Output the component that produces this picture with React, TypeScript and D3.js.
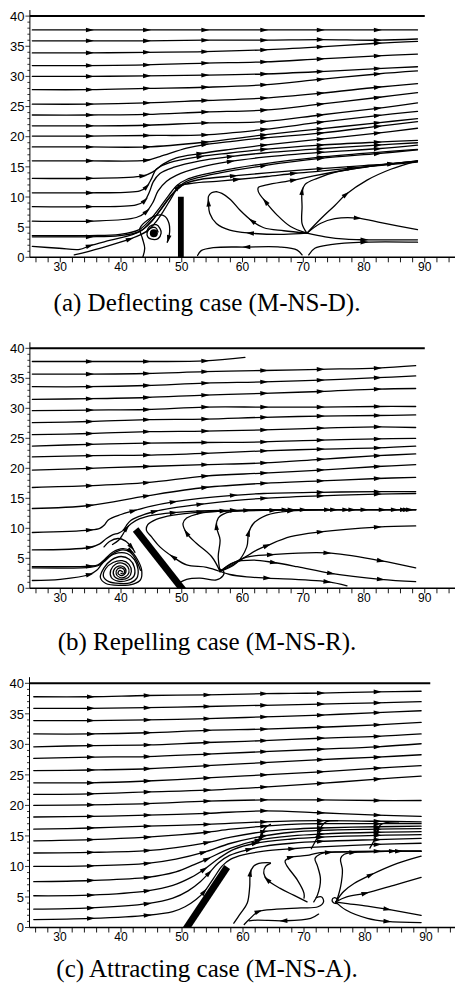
import React from "react";
import * as d3 from "d3";

type P = number[];

const CAPTIONS = [
  "(a) Deflecting case (M-NS-D).",
  "(b) Repelling case (M-NS-R).",
  "(c) Attracting case (M-NS-A).",
];
const X_LABELS = [30, 40, 50, 60, 70, 80, 90];
const Y_LABELS = [0, 5, 10, 15, 20, 25, 30, 35, 40];

// ---------- Panel A (deflecting) ----------
const STATIONS_A = [25.4, 34.8, 44.2, 53.8, 63.5, 72.8, 82.2, 88.8];
const UNIFORM_A = [
  [37.7, 37.7, 37.7, 37.7, 37.7, 37.7, 37.7, 37.7],
  [35.9, 35.9, 35.9, 36.0, 36.0, 36.1, 36.0, 36.2],
  [33.9, 33.9, 34.0, 34.1, 34.4, 34.9, 35.5, 35.8],
  [31.8, 31.8, 31.9, 32.2, 32.4, 32.9, 33.4, 33.7],
  [30.0, 30.0, 30.1, 30.2, 30.4, 30.8, 31.3, 31.6],
  [27.8, 27.8, 28.0, 28.2, 28.6, 29.5, 30.4, 30.9],
  [25.4, 25.4, 25.6, 26.0, 26.4, 27.2, 28.2, 28.8],
  [23.6, 23.6, 23.7, 24.1, 24.4, 25.4, 26.5, 27.3],
  [21.8, 21.8, 21.9, 22.3, 22.5, 23.6, 24.7, 25.6],
  [20.1, 20.1, 20.2, 20.3, 21.2, 22.4, 23.5, 24.2],
  [18.3, 18.3, 18.3, 19.1, 20.3, 21.3, 22.3, 23.0],
];
const FLOW_A: P[][] = [
  [[25.4, 16.0], [34.8, 16.0, 1], [44.2, 16.1, 1], [46.4, 16.7], [50.8, 18.1], [53.8, 18.7, 1], [58.0, 19.2], [63.5, 19.8, 1], [72.8, 20.6, 1], [82.2, 21.7, 1], [88.8, 22.5]],
  [[25.4, 13.1], [34.8, 13.1, 1], [43.6, 13.5, 1], [45.3, 14.2], [47.0, 15.5], [49.1, 16.5], [53.0, 17.2, 1], [58.0, 17.9], [63.5, 18.6, 1], [72.8, 19.6, 1], [82.2, 20.6, 1], [88.8, 21.4]],
  [[25.4, 10.7], [34.8, 10.7, 1], [43.1, 11.0], [44.2, 11.7, 1], [45.0, 13.0], [45.8, 14.6], [48.0, 15.7], [53.0, 16.7, 1], [58.0, 17.3], [63.5, 17.9, 1], [72.8, 18.6, 1], [82.2, 19.1, 1], [88.8, 19.4]],
  [[25.4, 8.4], [34.8, 8.4, 1], [42.5, 8.7], [43.9, 9.4, 1], [44.7, 10.9], [45.3, 12.5], [46.4, 13.9], [48.6, 14.9], [53.0, 16.0], [58.0, 16.7, 1], [63.5, 17.3], [72.8, 18.0, 1], [82.2, 18.6, 1], [88.8, 19.0]],
  [[25.4, 6.0], [34.8, 6.0, 1], [42.5, 6.6], [44.2, 7.6, 1], [45.3, 9.2], [46.1, 11.0], [47.5, 12.6], [49.1, 13.6], [53.0, 14.9], [58.0, 15.9, 1], [63.5, 16.6], [72.8, 17.4, 1], [82.2, 18.0, 1], [88.8, 18.6]],
  [[25.4, 3.4], [34.8, 3.4, 1], [39.8, 3.6], [43.1, 4.3], [44.7, 5.7], [46.4, 7.7], [48.0, 9.9], [49.4, 11.6, 1], [50.8, 12.6], [56.3, 14.0], [63.5, 15.2, 1], [72.8, 16.4, 1], [82.2, 17.2, 1], [88.8, 17.8]],
  [[25.4, 3.6], [34.8, 3.6], [39.8, 3.8], [43.0, 4.6], [44.6, 6.0], [46.2, 8.0], [47.8, 10.2], [49.2, 11.9], [50.8, 12.9], [56.3, 14.3], [63.5, 15.5], [72.8, 16.6, 1], [82.2, 17.4], [88.8, 17.9]],
  [[25.4, 1.8], [29.8, 1.5], [33.2, 1.3], [34.8, 1.9, 1], [38.1, 2.8], [42.0, 3.8], [43.6, 4.6], [45.1, 6.0], [46.7, 8.2], [48.2, 10.2], [49.4, 11.4], [50.5, 12.2], [53.0, 12.9], [58.5, 13.5, 1], [64.0, 14.0], [72.8, 14.7, 1], [80.0, 15.2], [84.4, 15.5, 1], [88.8, 16.0]],
  [[32.3, 0.4], [36.5, 1.5], [41.4, 3.0, 1], [44.2, 4.3], [45.6, 5.7], [47.0, 7.7], [48.2, 9.7], [49.0, 11.0], [49.9, 11.9, 1], [51.9, 12.3], [55.7, 12.6], [59.0, 12.9, 1], [64.0, 13.4], [68.4, 13.9, 1], [72.8, 14.3], [77.8, 14.8, 1], [83.3, 15.3], [88.8, 15.8]],
];
const VORTEX_A: P[][] = [
  [[43.6, 0.1], [43.9, 1.5], [43.5, 3.2], [43.1, 4.8], [44.4, 6.2], [46.1, 7.0], [47.2, 6.8], [47.9, 5.6], [48.0, 4.2], [47.8, 3.1, 1], [47.6, 2.5]],
  [[44.2, 4.2], [44.7, 5.1], [45.8, 5.4], [46.4, 4.8], [46.6, 4.0], [46.1, 3.1], [45.0, 3.0], [44.4, 3.4], [44.3, 4.1], [44.8, 4.8], [45.7, 4.9], [46.1, 4.2]],
];
const BLOB_A = [45.4, 4.0];
const RECIRC_A: P[][] = [
  [[70.6, 4.0], [66.8, 3.8], [61.3, 4.0, 1], [57.9, 4.5], [55.7, 5.6], [54.6, 7.3], [54.4, 9.0, 1], [54.4, 10.1], [54.9, 10.7], [55.7, 10.9]],
  [[70.6, 4.0], [66.8, 4.4], [63.5, 4.9], [61.6, 6.0, 1], [59.6, 7.8], [58.0, 9.6], [56.6, 10.6], [55.7, 10.9]],
  [[70.6, 4.0], [69.8, 5.6], [69.8, 8.4], [69.8, 10.9, 1], [70.3, 12.1], [72.3, 13.1], [75.6, 14.2], [80.5, 15.0], [84.4, 15.5, 1], [88.8, 16.0]],
  [[70.6, 4.0], [67.9, 5.1], [65.7, 7.0], [63.8, 9.2, 1], [62.6, 10.9], [62.6, 11.6], [64.0, 12.0], [68.4, 12.8, 1], [71.7, 13.5], [77.8, 14.6], [83.3, 15.4], [88.8, 15.9]],
  [[70.6, 4.0], [72.8, 6.3], [75.2, 8.6], [77.0, 10.4, 1], [80.5, 12.8], [84.4, 14.6], [88.8, 16.0]],
  [[70.6, 4.0], [72.8, 5.6], [75.2, 6.4], [78.9, 6.5, 1], [83.0, 5.7], [88.8, 4.6]],
  [[70.6, 4.0], [73.6, 3.4], [77.0, 3.0], [80.0, 2.9, 1], [88.8, 2.9]],
  [[70.9, 0.4], [71.9, 1.5], [74.5, 2.1], [80.0, 2.5, 1], [88.8, 2.5]],
  [[69.8, 0.4], [69.0, 1.2], [66.2, 1.7], [60.7, 1.7, 1], [55.2, 1.6], [53.2, 1.1], [52.6, 0.3]],
];
const WALL_A: P[] = [[49.85, 0], [49.85, 10.05]];

// ---------- Panel B (repelling) ----------
const STATIONS_B = [25.4, 34.8, 44.2, 53.8, 63.5, 72.8, 82.2, 88.5];
const UNIFORM_B = [
  [35.7, 35.7, 35.8, 36.1, 36.3, 36.5, 36.7, 37.1],
  [33.6, 33.6, 33.8, 34.2, 34.4, 34.7, 35.1, 35.4],
  [31.5, 31.6, 31.8, 32.2, 32.5, 32.8, 33.2, 33.3],
  [29.6, 29.7, 29.8, 30.2, 30.2, 30.2, 30.3, 30.3],
  [27.6, 27.8, 28.1, 28.2, 28.5, 28.7, 28.8, 28.9],
  [25.6, 25.8, 26.1, 26.2, 26.4, 26.7, 26.9, 26.8],
  [23.7, 24.0, 24.2, 24.3, 24.4, 24.7, 24.9, 25.0],
  [21.9, 22.1, 22.2, 22.5, 22.9, 23.2, 23.4, 23.7],
  [19.7, 20.0, 20.3, 20.6, 20.9, 21.5, 22.1, 22.4],
  [16.8, 17.1, 17.6, 18.7, 19.2, 19.7, 20.3, 20.6],
  [13.3, 13.8, 15.4, 16.8, 17.5, 17.9, 18.3, 18.5],
];
const FLOW_B: P[][] = [
  [[25.4, 37.8], [34.8, 37.8, 1], [44.2, 37.8, 1], [53.8, 37.9, 1], [60.4, 38.5]],
  [[25.4, 9.3], [34.8, 9.7, 1], [36.5, 10.0], [37.3, 10.6], [37.9, 11.4], [40.0, 12.3], [42.0, 12.9, 1], [45.0, 13.7], [48.6, 14.4, 1], [53.0, 15.0], [58.5, 15.5, 1], [63.5, 15.8], [72.8, 16.0, 1], [82.2, 16.1, 1], [88.5, 16.1]],
  [[25.4, 6.4], [34.8, 6.8, 1], [36.5, 7.4], [37.6, 8.3], [38.6, 8.9], [39.6, 9.2], [40.4, 9.7], [40.9, 10.5], [41.6, 11.3], [43.0, 12.0], [45.5, 12.8, 1], [48.6, 13.4], [53.0, 14.0, 1], [58.5, 14.6], [63.5, 15.0, 1], [72.8, 15.4, 1], [82.2, 15.7, 1], [88.5, 15.8]],
  [[38.6, 7.3], [39.6, 8.0], [40.3, 9.0], [40.9, 10.0, 1], [41.7, 10.8], [43.1, 11.6], [45.3, 12.2], [48.6, 12.6, 1], [53.0, 12.9], [58.5, 13.0, 1], [63.5, 13.1], [68.0, 13.1, 1], [72.8, 13.1], [78.0, 13.1, 1], [84.0, 13.1], [87.0, 13.1, 1], [88.5, 13.1]],
  [[37.2, 6.9], [38.1, 7.8], [39.5, 8.3], [40.7, 7.9], [41.7, 6.9, 1], [42.3, 6.0]],
];
const VORTEX_B: P[][] = [
  [[25.4, 3.6], [34.8, 3.7, 1], [36.2, 3.9], [37.3, 4.8], [38.6, 6.0], [40.3, 6.6], [41.6, 6.2, 1], [42.7, 4.8], [43.4, 3.0], [43.2, 1.4], [42.0, 0.7], [39.8, 0.5], [37.5, 0.8], [36.6, 1.8], [37.2, 3.4], [38.4, 4.7], [40.0, 5.3], [41.4, 4.8], [42.2, 3.5], [42.1, 2.0], [41.0, 1.3], [39.5, 1.2], [38.4, 1.8], [38.3, 3.0], [39.1, 4.0], [40.2, 4.2], [41.1, 3.6], [41.3, 2.6], [40.7, 1.9], [39.8, 1.8], [39.2, 2.4], [39.4, 3.2], [40.1, 3.4], [40.6, 2.9], [40.4, 2.4], [40.0, 2.5]],
  [[25.4, 3.4], [34.8, 3.5], [36.3, 3.8], [37.4, 4.6], [38.7, 5.8], [40.3, 6.4], [41.5, 6.0], [42.5, 4.7], [43.2, 3.0]],
  [[25.4, 1.3], [30.0, 1.5], [34.8, 2.3, 1], [36.0, 3.0], [36.8, 4.0], [37.9, 5.2], [39.5, 5.9], [41.0, 5.8], [42.2, 4.8], [42.8, 3.2], [42.6, 1.7], [41.5, 0.9], [39.8, 0.8], [38.0, 1.1], [37.1, 2.0], [37.5, 3.3], [38.7, 4.3], [40.2, 4.6], [41.3, 4.0], [41.7, 2.8], [41.2, 1.8], [40.0, 1.5], [38.9, 2.0], [38.8, 3.0], [39.6, 3.7], [40.5, 3.5], [40.8, 2.7], [40.2, 2.1], [39.5, 2.5], [39.8, 3.0], [40.3, 2.7]],
];
const RECIRC_B: P[][] = [
  [[56.3, 2.8], [54.1, 3.5], [50.8, 3.9], [48.6, 5.2, 1], [46.4, 6.9], [45.0, 8.6], [44.2, 9.6], [44.4, 10.6], [45.8, 11.5], [48.6, 12.2], [53.0, 12.7, 1], [58.5, 12.9], [65.0, 13.0, 1], [75.0, 13.1, 1], [85.0, 13.1, 1], [88.5, 13.1]],
  [[56.3, 2.8], [54.9, 5.3], [52.4, 7.5], [50.8, 9.2, 1], [50.2, 10.8], [50.8, 11.7], [53.0, 12.5], [56.8, 12.9, 1], [62.0, 13.0], [67.0, 13.1, 1], [77.0, 13.1, 1], [86.5, 13.1, 1], [88.5, 13.1]],
  [[56.3, 2.8], [56.0, 5.3], [56.3, 8.1], [55.7, 10.3, 1], [56.0, 11.7], [57.4, 12.6], [60.7, 13.0, 1], [66.0, 13.1], [70.0, 13.1, 1], [80.0, 13.1, 1], [87.5, 13.1, 1], [88.5, 13.1]],
  [[56.3, 2.8], [59.0, 4.2], [60.7, 6.9], [61.0, 9.2, 1], [61.8, 10.8], [64.0, 12.2], [67.9, 12.9, 1], [74.0, 13.1, 1], [83.0, 13.1, 1], [88.5, 13.1]],
  [[56.3, 2.8], [59.0, 4.3], [62.4, 6.4], [64.0, 7.1, 1], [67.9, 8.6], [72.8, 9.4, 1], [82.2, 10.2, 1], [88.5, 10.4]],
  [[56.3, 2.8], [57.9, 3.9], [60.7, 5.2], [64.6, 5.6, 1], [73.9, 5.9, 1], [82.7, 4.6, 1], [88.5, 3.4]],
  [[56.3, 2.8], [58.5, 4.3], [61.8, 4.7], [65.1, 4.3, 1], [69.0, 3.6], [74.5, 2.5, 1], [82.7, 1.5, 1], [88.5, 1.1]],
  [[56.3, 2.8], [57.9, 2.3], [60.7, 1.9], [64.0, 1.7, 1], [73.9, 1.1, 1], [77.2, 0.4]],
  [[49.4, 0.8], [50.8, 1.5], [53.0, 1.7], [55.7, 1.4], [56.8, 2.1], [56.9, 2.8], [56.3, 3.2]],
];
const WALL_B: P[] = [[50.0, 0], [42.4, 9.8]];

// ---------- Panel C (attracting) ----------
const STATIONS_C = [25.7, 35.0, 44.3, 54.1, 63.4, 72.7, 82.0, 89.2];
const UNIFORM_C = [
  [37.8, 37.8, 38.0, 38.1, 38.3, 38.4, 38.6, 38.7],
  [35.9, 35.9, 36.0, 36.2, 36.4, 36.6, 36.8, 37.0],
  [33.9, 33.9, 34.0, 34.2, 34.5, 34.8, 35.2, 35.5],
  [31.7, 31.7, 31.9, 32.3, 32.5, 32.8, 33.2, 33.6],
  [29.6, 29.8, 29.9, 30.3, 30.6, 31.0, 31.3, 31.7],
  [27.7, 27.9, 28.0, 28.4, 28.8, 29.2, 29.6, 30.1],
  [25.7, 25.8, 26.0, 26.5, 27.0, 27.5, 27.9, 28.3],
  [23.7, 23.7, 24.0, 24.5, 25.0, 25.5, 26.1, 26.5],
  [21.8, 21.9, 22.2, 22.5, 23.0, 23.6, 24.3, 24.8],
  [20.0, 20.1, 20.3, 20.7, 20.9, 20.9, 20.8, 20.8],
  [18.1, 18.2, 18.4, 18.7, 19.1, 18.8, 18.4, 18.2],
];
const FLOW_C: P[][] = [
  [[25.7, 16.1], [35.0, 16.3, 1], [44.3, 16.6, 1], [54.1, 16.9, 1], [63.4, 17.3, 1], [72.7, 17.5, 1], [82.0, 17.4, 1], [89.2, 17.3]],
  [[25.7, 14.2], [35.0, 14.4, 1], [44.3, 14.8, 1], [50.0, 15.2], [54.1, 15.6, 1], [58.0, 16.1], [63.4, 16.6, 1], [68.0, 16.9], [72.7, 17.0, 1], [82.0, 17.0, 1], [89.2, 17.0]],
  [[25.7, 12.2], [35.0, 12.3, 1], [44.3, 12.6, 1], [49.0, 13.1], [54.1, 13.9, 1], [58.0, 14.8], [63.4, 15.7, 1], [68.0, 16.1], [72.7, 16.3, 1], [82.0, 16.5, 1], [89.2, 16.6]],
  [[25.7, 10.0], [35.0, 10.1, 1], [44.3, 10.5, 1], [49.0, 11.2], [53.5, 12.3, 1], [58.0, 13.8], [63.4, 15.0, 1], [68.0, 15.6], [72.7, 15.9, 1], [82.0, 16.1, 1], [89.2, 16.2]],
  [[25.7, 7.5], [35.0, 7.7, 1], [44.3, 8.2, 1], [49.0, 9.1], [52.0, 10.3], [54.1, 11.2, 1], [58.0, 13.0], [62.5, 14.3, 1], [68.0, 15.0], [72.7, 15.3, 1], [82.0, 15.6, 1], [89.2, 15.7]],
  [[25.7, 5.2], [35.0, 5.3, 1], [44.3, 6.0, 1], [48.5, 6.9], [51.5, 8.2], [53.6, 9.5, 1], [56.0, 11.3], [58.5, 12.8], [62.0, 13.8, 1], [68.0, 14.5], [72.7, 14.8, 1], [82.0, 15.1, 1], [89.2, 15.2]],
  [[25.7, 3.0], [35.0, 3.2, 1], [44.3, 3.9, 1], [48.5, 4.8], [51.0, 6.0], [53.0, 7.5], [54.4, 8.9, 1], [56.0, 10.6], [57.8, 11.8], [61.0, 12.8, 1], [63.4, 13.3], [68.0, 13.8], [72.7, 14.1, 1], [82.0, 14.4, 1], [89.2, 14.6]],
  [[25.7, 1.3], [35.0, 1.5, 1], [44.3, 2.0, 1], [48.5, 2.6], [50.5, 3.4], [52.3, 4.6], [53.6, 5.8, 1], [55.2, 8.1], [56.6, 10.1], [58.0, 11.2], [60.0, 11.9], [63.4, 12.5], [68.0, 12.9, 1], [72.7, 13.2], [82.0, 13.6, 1], [89.2, 13.8]],
  [[71.2, 12.9], [71.8, 14.0], [72.4, 15.2, 1], [72.9, 16.6], [73.6, 17.3], [75.5, 17.5]],
  [[80.8, 13.0], [81.5, 14.3], [82.0, 15.6, 1], [82.5, 16.8], [83.5, 17.2], [85.5, 17.3]],
  [[62.5, 13.9], [63.0, 15.0, 1], [63.6, 16.3], [64.5, 16.9]],
];
const RECIRC_C: P[][] = [
  [[58.5, 0.7], [59.6, 2.3], [60.7, 4.0], [61.1, 6.7], [61.2, 8.9, 1], [61.7, 10.0], [62.6, 10.5], [64.5, 10.6]],
  [[60.2, 0.5], [61.0, 1.3], [62.5, 2.6, 1], [65.5, 3.0], [69.5, 3.2], [72.3, 3.4], [73.2, 4.2], [72.9, 5.0], [72.0, 4.9]],
  [[72.4, 2.2], [71.1, 1.5], [66.7, 1.1, 1], [62.3, 1.2], [61.0, 1.1]],
  [[70.5, 4.2], [68.3, 5.3], [66.1, 6.4], [64.0, 7.8, 1], [63.4, 8.9], [63.7, 10.0], [64.5, 10.5]],
  [[70.0, 4.8], [70.0, 5.6], [68.9, 7.8], [67.2, 10.1], [66.9, 10.9], [67.8, 11.5, 1], [70.5, 11.8], [72.2, 12.2], [76.0, 12.4], [82.0, 12.5, 1], [89.2, 12.5]],
  [[71.6, 4.2], [72.2, 5.3], [72.7, 7.9], [72.2, 10.1], [71.8, 11.3], [72.6, 12.0], [74.0, 12.3, 1], [80.0, 12.4], [85.5, 12.5, 1], [89.2, 12.5]],
  [[75.4, 4.5], [76.0, 6.7], [76.3, 9.4], [76.0, 11.3], [76.6, 12.0], [78.0, 12.3, 1], [84.5, 12.5, 1], [89.2, 12.5]],
  [[75.2, 4.2], [76.5, 5.9], [78.2, 7.2], [80.9, 8.6, 1], [85.3, 10.5], [89.2, 11.7]],
  [[75.2, 4.2], [77.0, 5.0], [80.0, 5.6, 1], [85.0, 7.0], [89.2, 8.2]],
  [[75.2, 4.2], [76.5, 4.0], [80.4, 3.5], [83.6, 3.0, 1], [89.2, 2.0]],
  [[75.2, 4.2], [76.8, 2.9], [80.4, 1.5], [83.6, 1.0, 1], [89.2, 0.8]],
  [[75.6, 4.6], [75.0, 4.9], [74.6, 4.5], [74.9, 4.0], [75.5, 3.9]],
];
const WALL_C: P[] = [[50.8, 0], [57.4, 9.9]];

// ---------- layout ----------
interface PanelCfg {
  id: string;
  x0: number; kx: number; yBottom: number; yTop: number;
  topEnd: number;
  stations: number[]; uniform: number[][];
  lines: P[][];
  wall: P[]; wallWidth: number;
  blob?: number[];
  caption: string; captionY: number;
}

const PANELS: PanelCfg[] = [
  { id: "a", x0: 29.9, kx: 6.075, yBottom: 257.3, yTop: 16.1, topEnd: 90,
    stations: STATIONS_A, uniform: UNIFORM_A,
    lines: [...FLOW_A, ...VORTEX_A, ...RECIRC_A], wall: WALL_A, wallWidth: 5.8,
    blob: BLOB_A, caption: CAPTIONS[0], captionY: 311 },
  { id: "b", x0: 29.9, kx: 6.075, yBottom: 588.3, yTop: 348.3, topEnd: 90,
    stations: STATIONS_B, uniform: UNIFORM_B,
    lines: [...FLOW_B, ...VORTEX_B, ...RECIRC_B], wall: WALL_B, wallWidth: 7,
    caption: CAPTIONS[1], captionY: 649.5 },
  { id: "c", x0: 29.5, kx: 6.1, yBottom: 927.5, yTop: 683.3, topEnd: 90.7,
    stations: STATIONS_C, uniform: UNIFORM_C,
    lines: [...FLOW_C, ...RECIRC_C], wall: WALL_C, wallWidth: 7,
    caption: CAPTIONS[2], captionY: 977 },
];

const SANS = "'Liberation Sans', Arial, Helvetica, sans-serif";
const SERIF = "'Liberation Serif', 'Times New Roman', Times, serif";

function Panel({ cfg }: { cfg: PanelCfg }) {
  const x = d3.scaleLinear().domain([25, 95]).range([cfg.x0, cfg.x0 + 70 * cfg.kx]);
  const y = d3.scaleLinear().domain([0, 40]).range([cfg.yBottom, cfg.yTop]);
  const line = d3
    .line<P>()
    .x((d) => x(d[0]))
    .y((d) => y(d[1]))
    .curve(d3.curveCatmullRom.alpha(0.5));

  const uniformLines: P[][] = cfg.uniform.map((ys) =>
    ys.map((v, i) => [cfg.stations[i], v, i > 0 && i < ys.length - 1 ? 1 : 0])
  );
  const all = [...uniformLines, ...cfg.lines];

  const arrowPaths: string[] = [];
  all.forEach((pts) => {
    pts.forEach((p, i) => {
      if (!p[2]) return;
      const a = pts[Math.max(0, i - 1)];
      const b = pts[Math.min(pts.length - 1, i + 1)];
      let dx = x(b[0]) - x(a[0]);
      let dy = y(b[1]) - y(a[1]);
      const L = Math.hypot(dx, dy) || 1;
      dx /= L; dy /= L;
      const cx = x(p[0]), cy = y(p[1]);
      const tx = cx + dx * 4.5, ty = cy + dy * 4.5;
      const bx = cx - dx * 3.5, by = cy - dy * 3.5;
      const w = 2.3;
      arrowPaths.push(
        `M${tx},${ty}L${bx - dy * w},${by + dx * w}L${bx + dy * w},${by - dx * w}Z`
      );
    });
  });

  // wall polygon
  const [w0, w1] = cfg.wall;
  const px0 = x(w0[0]), py0 = y(w0[1]), px1 = x(w1[0]), py1 = y(w1[1]);
  let ux = px1 - px0, uy = py1 - py0;
  const ul = Math.hypot(ux, uy);
  ux /= ul; uy /= ul;
  const hw = cfg.wallWidth / 2;
  const nx = -uy * hw, ny = ux * hw;
  const ext = 4;
  const wallPts = [
    [px0 - ux * ext + nx, py0 - uy * ext + ny],
    [px1 + nx, py1 + ny],
    [px1 - nx, py1 - ny],
    [px0 - ux * ext - nx, py0 - uy * ext - ny],
  ];
  const clipId = `clip-${cfg.id}`;

  const yTicks = d3.range(0, 41, 1);
  const xTicks = d3.range(26, 95, 2);
  const axisX = x(25);
  const axisY = y(0);

  return (
    <g>
      <defs>
        <clipPath id={clipId}>
          <rect x={axisX} y={y(41)} width={x(95) - axisX} height={axisY - y(41)} />
        </clipPath>
      </defs>
      <g fill="none" stroke="#000" strokeWidth={1.3} strokeLinejoin="round" strokeLinecap="round">
        {all.map((pts, i) => (
          <path key={i} d={line(pts) || ""} />
        ))}
      </g>
      <g fill="#000">
        {arrowPaths.map((d, i) => (
          <path key={i} d={d} />
        ))}
      </g>
      {cfg.blob && <circle cx={x(cfg.blob[0])} cy={y(cfg.blob[1])} r={4} fill="#000" />}
      <polygon
        clipPath={`url(#${clipId})`}
        points={wallPts.map((p) => p.join(",")).join(" ")}
        fill="#000"
      />
      {/* top boundary */}
      <line x1={axisX} x2={x(cfg.topEnd)} y1={y(40)} y2={y(40)} stroke="#000" strokeWidth={2} />
      {/* y axis */}
      <line x1={axisX} x2={axisX} y1={y(41)} y2={axisY} stroke="#000" strokeWidth={1} />
      {yTicks.map((t) => (
        <line key={t} x1={axisX - (t % 5 === 0 ? 4.5 : 2.5)} x2={axisX} y1={y(t)} y2={y(t)} stroke="#000" strokeWidth={0.8} />
      ))}
      {Y_LABELS.map((t) => (
        <text key={t} x={axisX - 5.5} y={y(t)} dy="0.36em" textAnchor="end" fontFamily={SANS} fontSize={13} fill="#000">
          {t}
        </text>
      ))}
      {/* x axis */}
      <line x1={axisX} x2={x(95)} y1={axisY} y2={axisY} stroke="#000" strokeWidth={1.5} />
      {xTicks.map((t) => (
        <line key={t} x1={x(t)} x2={x(t)} y1={axisY} y2={axisY + 5} stroke="#000" strokeWidth={0.9} />
      ))}
      {X_LABELS.map((t) => (
        <text key={t} x={x(t)} y={axisY + 13.6} textAnchor="middle" fontFamily={SANS} fontSize={12} fill="#000">
          {t}
        </text>
      ))}
      <text x={207} y={cfg.captionY} textAnchor="middle" fontFamily={SERIF} fontSize={25} fill="#000">
        {cfg.caption}
      </text>
    </g>
  );
}

export default function App() {
  return (
    <svg
      width={455}
      height={986}
      viewBox="0 0 455 986"
      style={{ position: "absolute", left: 0, top: 0, background: "#fff" }}
    >
      <rect x={0} y={0} width={455} height={986} fill="#fff" />
      {PANELS.map((p) => (
        <Panel key={p.id} cfg={p} />
      ))}
    </svg>
  );
}
